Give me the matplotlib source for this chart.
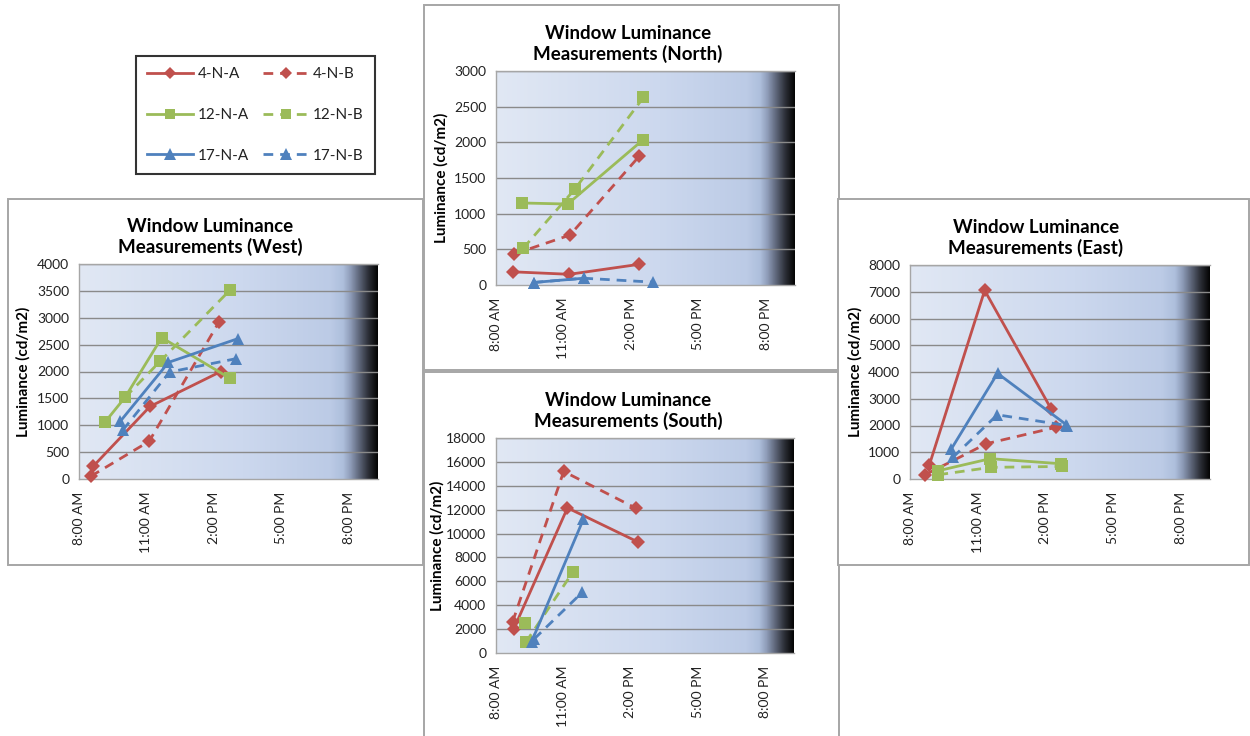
import matplotlib
matplotlib.use("Agg")
import numpy as np
import matplotlib.pyplot as plt
from matplotlib.colors import LinearSegmentedColormap
from matplotlib.patches import Rectangle
from matplotlib.lines import Line2D

plt.rcParams['font.family'] = ['Lato', 'DejaVu Sans']

# ---- data: times in decimal hours, luminance in cd/m2 ----
series_names = ["4-N-A", "4-N-B", "12-N-A", "12-N-B", "17-N-A", "17-N-B"]
tick_hours = [8, 11, 14, 17, 20]
tick_labels = ["8:00 AM", "11:00 AM", "2:00 PM", "5:00 PM", "8:00 PM"]

west_4na_t = [8.64, 11.16, 14.31];         west_4na_v = [240, 1350, 2000]
west_4nb_t = [8.52, 11.12, 14.24];         west_4nb_v = [50, 700, 2930]
west_12na_t = [9.16, 10.05, 11.68, 14.73]; west_12na_v = [1060, 1520, 2630, 1870]
west_12nb_t = [10.05, 11.61, 14.73];       west_12nb_v = [1520, 2190, 3520]
west_17na_t = [9.83, 11.98, 15.06];        west_17na_v = [1070, 2170, 2610]
west_17nb_t = [9.95, 12.03, 15.00];        west_17nb_v = [910, 1990, 2240]

north_4na_t = [8.74, 11.26, 14.37];  north_4na_v = [185, 150, 290]
north_4nb_t = [8.81, 11.29, 14.37];  north_4nb_v = [435, 700, 1805]
north_12na_t = [9.14, 11.19, 14.52]; north_12na_v = [1150, 1135, 2030]
north_12nb_t = [9.21, 11.51, 14.56]; north_12nb_v = [515, 1345, 2630]
north_17na_t = [9.67, 11.90];        north_17na_v = [35, 95]
north_17nb_t = [9.67, 11.90, 15.00]; north_17nb_v = [35, 95, 40]

south_4na_t = [8.79, 11.19, 14.33];  south_4na_v = [2000, 12150, 9300]
south_4nb_t = [8.74, 11.02, 14.27];  south_4nb_v = [2600, 15200, 12100]
south_12na_t = [9.29];               south_12na_v = [2500]
south_12nb_t = [9.33, 11.44];        south_12nb_v = [900, 6800]
south_17na_t = [9.59, 11.90];        south_17na_v = [950, 11200]
south_17nb_t = [9.70, 11.86];        south_17nb_v = [1170, 5100]

east_4na_t = [8.86, 11.31, 14.25];   east_4na_v = [530, 7050, 2630]
east_4nb_t = [8.67, 11.39, 14.46];   east_4nb_v = [160, 1320, 1930]
east_12na_t = [9.26, 11.56, 14.70];  east_12na_v = [310, 760, 570]
east_12nb_t = [9.26, 11.58, 14.76];  east_12nb_v = [160, 435, 470]
east_17na_t = [9.83, 11.88, 14.93];  east_17na_v = [1120, 3950, 2030]
east_17nb_t = [9.90, 11.87, 14.96];  east_17nb_v = [810, 2400, 2000]

# ---- styles ----
RED, GREEN, BLUE = "#c0504d", "#9bbb59", "#4f81bd"
DASH = (0, (3.5, 2.5))
styles = {
    "4-N-A":  dict(color=RED,   marker="D", ms=7.0, ls="-"),
    "4-N-B":  dict(color=RED,   marker="D", ms=7.0, ls=DASH),
    "12-N-A": dict(color=GREEN, marker="s", ms=8.5, ls="-"),
    "12-N-B": dict(color=GREEN, marker="s", ms=8.5, ls=DASH),
    "17-N-A": dict(color=BLUE,  marker="^", ms=9.0, ls="-"),
    "17-N-B": dict(color=BLUE,  marker="^", ms=9.0, ls=DASH),
}

W, H = 1250, 736
fig = plt.figure(figsize=(W / 100, H / 100), dpi=100)
fig.patch.set_facecolor("white")


def px_rect(x0, y0, x1, y1):
    """Convert a pixel box (top-left origin) to figure-fraction [l, b, w, h]."""
    return [x0 / W, 1 - y1 / H, (x1 - x0) / W, (y1 - y0) / H]


bg_cmap = LinearSegmentedColormap.from_list(
    "panel_bg",
    [(0.00, "#e1e8f4"), (0.55, "#ccd8ee"), (0.84, "#bccbe6"), (0.885, "#aebfdc"),
     (0.91, "#8e9cb8"), (0.94, "#5c6477"), (0.97, "#2b2e36"), (1.00, "#050505")])

XMIN, XMAX = 8.0, 21.3

# frames behind each chart
frames = [(8, 199, 423, 565), (424, 5, 839, 370), (424, 372, 839, 740), (838, 199, 1249, 565)]
for (x0, y0, x1, y1) in frames:
    l, b, w, h = px_rect(x0, y0, x1, y1)
    fig.add_artist(Rectangle((l, b), w, h, transform=fig.transFigure,
                             facecolor="white", edgecolor="#a6a6a6", lw=1.4, zorder=-5))

panels = [
    dict(name="West", box=(79, 264, 378, 479), ymax=4000, step=500,
         title_xy=(210, 237), ylab_x=23,
         data=[(west_4na_t, west_4na_v), (west_4nb_t, west_4nb_v),
               (west_12na_t, west_12na_v), (west_12nb_t, west_12nb_v),
               (west_17na_t, west_17na_v), (west_17nb_t, west_17nb_v)]),
    dict(name="North", box=(496, 71, 795, 285), ymax=3000, step=500,
         title_xy=(628, 44), ylab_x=441,
         data=[(north_4na_t, north_4na_v), (north_4nb_t, north_4nb_v),
               (north_12na_t, north_12na_v), (north_12nb_t, north_12nb_v),
               (north_17na_t, north_17na_v), (north_17nb_t, north_17nb_v)]),
    dict(name="South", box=(496, 438, 794, 653), ymax=18000, step=2000,
         title_xy=(628, 411), ylab_x=437,
         data=[(south_4na_t, south_4na_v), (south_4nb_t, south_4nb_v),
               (south_12na_t, south_12na_v), (south_12nb_t, south_12nb_v),
               (south_17na_t, south_17na_v), (south_17nb_t, south_17nb_v)]),
    dict(name="East", box=(910, 265, 1210, 479), ymax=8000, step=1000,
         title_xy=(1036, 238), ylab_x=855,
         data=[(east_4na_t, east_4na_v), (east_4nb_t, east_4nb_v),
               (east_12na_t, east_12na_v), (east_12nb_t, east_12nb_v),
               (east_17na_t, east_17na_v), (east_17nb_t, east_17nb_v)]),
]

for p in panels:
    x0, y0, x1, y1 = p["box"]
    ax = fig.add_axes(px_rect(x0, y0, x1, y1))
    ax.set_xlim(XMIN, XMAX)
    ax.set_ylim(0, p["ymax"])
    grad = np.linspace(0, 1, 512).reshape(1, -1)
    ax.imshow(grad, cmap=bg_cmap, aspect="auto", extent=[XMIN, XMAX, 0, p["ymax"]],
              zorder=0, interpolation="bilinear")
    yt = np.arange(0, p["ymax"] + 1, p["step"])
    ax.set_yticks(yt)
    ax.set_yticklabels([str(int(v)) for v in yt], fontsize=10, color="#222222")
    for v in yt[1:]:
        ax.axhline(v, color="#8a8a8a", lw=1.0, zorder=1)
    ax.set_xticks(tick_hours)
    ax.set_xticklabels(tick_labels, rotation=90, fontsize=10, color="#222222",
                       va="top", ha="center")
    ax.tick_params(length=0, pad=7)
    ax.tick_params(axis="x", pad=9)
    for s in ax.spines.values():
        s.set_color("#a6a6a6")
        s.set_linewidth(1.0)
    ax.spines["right"].set_visible(False)

    for name, (t, v) in zip(series_names, p["data"]):
        st = styles[name]
        ax.plot(t, v, color=st["color"], lw=2.0, ls=st["ls"], marker=st["marker"],
                ms=st["ms"], markeredgewidth=0, zorder=3, clip_on=False)

    tx, ty = p["title_xy"]
    fig.text(tx / W, 1 - ty / H, f"Window Luminance\nMeasurements ({p['name']})",
             ha="center", va="center", fontsize=13.5, fontweight="bold",
             linespacing=1.25, color="black")
    fig.text(p["ylab_x"] / W, 1 - ((y0 + y1) / 2) / H, "Luminance (cd/m2)",
             rotation=90, ha="center", va="center", fontsize=11, fontweight="bold")

# shared legend
handles = []
order = ["4-N-A", "12-N-A", "17-N-A", "4-N-B", "12-N-B", "17-N-B"]
for name in order:
    st = styles[name]
    handles.append(Line2D([], [], color=st["color"], lw=2.0, ls=st["ls"],
                          marker=st["marker"], ms=st["ms"] * 0.9, markeredgewidth=0))
leg = fig.legend(handles, order, ncol=2, loc="center",
                 bbox_to_anchor=((136 + 375) / 2 / W, 1 - 115 / H),
                 fontsize=11, handlelength=3.0, handletextpad=0.3,
                 columnspacing=0.9, labelspacing=1.75, borderpad=0.75,
                 frameon=True, fancybox=False, numpoints=1)
leg.get_frame().set_edgecolor("black")
leg.get_frame().set_linewidth(1.5)
for txt in leg.get_texts():
    txt.set_color("#222222")

fig.savefig("out.png", dpi=100, facecolor="white")
